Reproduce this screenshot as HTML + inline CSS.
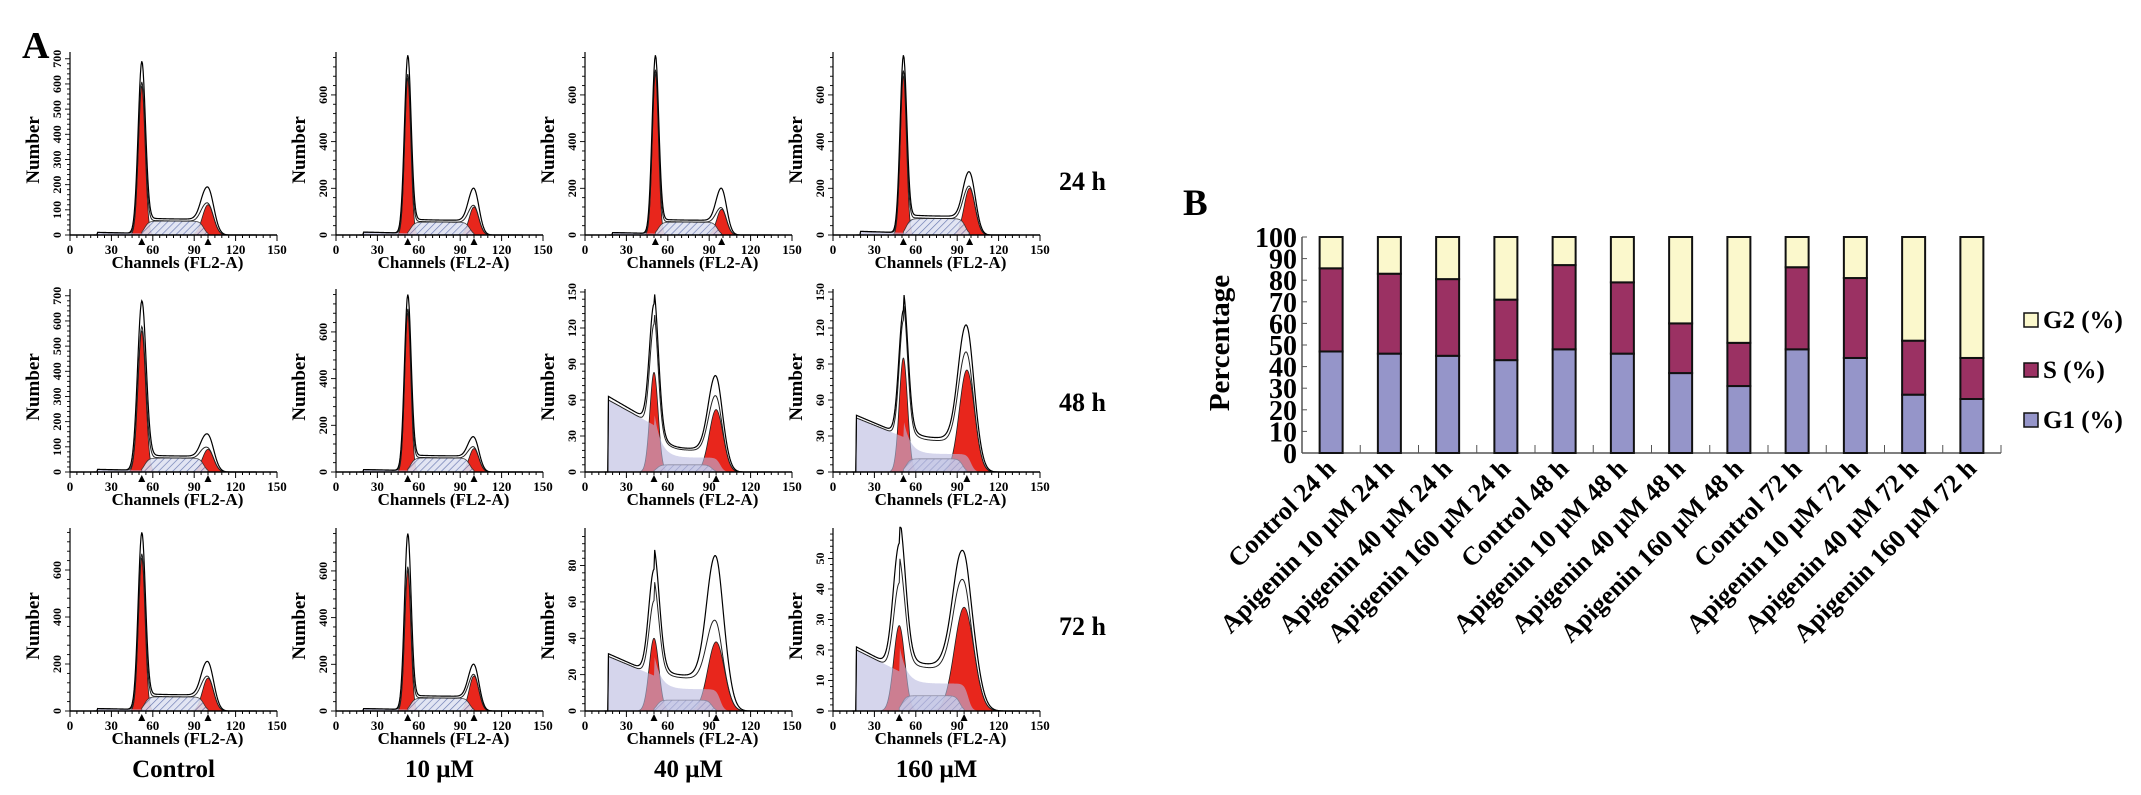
<!DOCTYPE html>
<html><head><meta charset="utf-8"><style>
html,body{margin:0;padding:0;background:#fff;}
svg{display:block;font-family:"Liberation Serif",serif;font-weight:bold;}
</style></head><body>
<svg id="fig" width="2141" height="795" viewBox="0 0 2141 795" xmlns="http://www.w3.org/2000/svg">
<defs>
<pattern id="hatch" patternUnits="userSpaceOnUse" width="5" height="5" patternTransform="rotate(45)">
<rect width="5" height="5" fill="#dfe3f2"/><line x1="0" y1="0" x2="0" y2="5" stroke="#5a6aa8" stroke-width="1.3"/>
</pattern>
</defs>
<text x="22" y="58" font-size="38">A</text>
<text x="1183" y="215" font-size="37">B</text>
<g id="panelA"></g>
<g id="panelB"></g>
</svg>
<script>
// ---- Panel A data ----
const rowLabels = ['24 h','48 h','72 h'];
const colLabels = ['Control','10 μM','40 μM','160 μM'];
const panelTop  = [715,771,771,771, 715,771,150,150, 766,771,99,59];
const panelTick = [100,200,200,200, 100,200,30,30, 200,200,20,10];
const g1Mean    = [52,52,51,51, 52,52,50,51, 52,52,50,48];
const g2Mean    = [100,100,99,99, 100,100,95,97, 100,100,95,95];
const g1Red     = [590,670,690,680, 560,680,83,95, 650,600,40,28];
const g1Obs     = [690,770,770,770, 680,760,140,135, 760,760,78,55];
const g2Red     = [120,120,110,200, 90,100,52,85, 140,150,38,34];
const g2Obs     = [190,200,200,270, 150,150,80,122, 210,200,85,52];
const sLevel    = [55,55,55,70, 55,60,6,11, 60,55,6,5];
const debris    = [10,12,10,15, 10,10,60,45, 10,10,30,20];
const debrisS   = [0,0,0,0, 0,0,12,15, 0,0,12,9];
const sig1      = [2.4,2.2,2.2,2.2, 2.8,2.2,3,3, 2.4,2.2,3.5,4];
const sig2      = [4,3.5,3.5,4, 4,3.5,5,5.5, 4,3.5,6,7];

// ---- Panel B data ----
const categories = ['Control 24 h','Apigenin 10 μM 24 h','Apigenin 40 μM 24 h','Apigenin 160 μM 24 h',
 'Control 48 h','Apigenin 10 μM 48 h','Apigenin 40 μM 48 h','Apigenin 160 μM 48 h',
 'Control 72 h','Apigenin 10 μM 72 h','Apigenin 40 μM 72 h','Apigenin 160 μM 72 h'];
const g1Pct = [47,46,45,43,48,46,37,31,48,44,27,25];
const sPct  = [38.5,37,35.5,28,39,33,23,20,38,37,25,19];
const g2Pct = [14.5,17,19.5,29,13,21,40,49,14,19,48,56];
const yTicks = [0,10,20,30,40,50,60,70,80,90,100];
const legendItems = ['G2 (%)','S (%)','G1 (%)'];

const NS='http://www.w3.org/2000/svg';
function mk(tag,attrs,parent){const e=document.createElementNS(NS,tag);for(const k in attrs)e.setAttribute(k,attrs[k]);parent.appendChild(e);return e;}

const colX=[70,336,585,833], rowY=[235,472,711], AW=207, AH=180;
const A=document.getElementById('panelA');
function gauss(c,m,s,h){return h*Math.exp(-0.5*((c-m)/s)**2);}
function sig(c,m,w){return 1/(1+Math.exp(-(c-m)/(w||1.5)));}
for(let r=0;r<3;r++)for(let c=0;c<4;c++){
  const i=r*4+c,x0=colX[c],y0=rowY[r],top=panelTop[i];
  const g=mk('g',{},A);
  
  
  const X=ch=>x0+ch/150*AW, Y=v=>y0-Math.min(v,top*1.02)/top*AH;
  const m1=g1Mean[i],m2=g2Mean[i];
  const dStart=(debrisS[i]>0)?17:20;
  const deb=ch=>{
    if(ch<dStart)return 0;
    if(ch<=m1)return debris[i]*(1-0.35*(ch-dStart)/(m1-dStart));
    const a=debris[i]*0.65*Math.exp(-(ch-m1)/(debrisS[i]>0?5:10));
    return a+debrisS[i]*(1-sig(ch,m2+3,1.5));
  };
  const sF=ch=>sLevel[i]*sig(ch,m1+2)*(1-sig(ch,m2-3));
  const base=ch=>deb(ch)*1.05+sF(ch)*1.15;
  const chs=[];for(let ch=dStart-3;ch<=135;ch+=0.5)chs.push(ch);
  // red peaks
  for(const [m,s,h] of [[m1,sig1[i],g1Red[i]],[m2,sig2[i],g2Red[i]]]){
    let d=`M${X(m-3.2*s)},${y0}`;for(let ch=m-3.2*s;ch<=m+3.2*s;ch+=0.25)d+=`L${X(ch)},${Y(gauss(ch,m,s,h))}`;d+=`L${X(m+3.2*s)},${y0}Z`;
    const p=mk('path',{d,fill:'#e8261c',stroke:'#222','stroke-width':0.8},g);
    
    
  }
  // hatched S
  let d=`M${X(m1)},${y0}`;for(let ch=m1;ch<=m2;ch+=0.5)d+=`L${X(ch)},${Y(sF(ch))}`;d+=`L${X(m2)},${y0}Z`;
  const sp=mk('path',{d,fill:'url(#hatch)',stroke:'#333','stroke-width':0.8,opacity:0.9},g);
  
  
  // debris
  d=`M${X(dStart)},${y0}`;for(let ch=dStart;ch<=135;ch+=0.5)d+=`L${X(ch)},${Y(deb(ch))}`;d+=`L${X(135)},${y0}Z`;
  const dp=mk('path',{d,fill:'#b9b9e0','fill-opacity':0.6,stroke:'none'},g);
  
  
  // model line
  d='';chs.forEach((ch,k)=>{const v=deb(ch)+sF(ch)+gauss(ch,m1,sig1[i],g1Red[i])+gauss(ch,m2,sig2[i],g2Red[i]);d+=(k?'L':'M')+X(ch)+','+Y(v);});
  const ml=mk('path',{d,fill:'none',stroke:'#222','stroke-width':1},g);
  
  
  // observed outline: peak heights match observed values
  const h1=Math.max(g1Obs[i]-base(m1),0), h2=Math.max(g2Obs[i]-base(m2),0);
  d='';chs.forEach((ch,k)=>{const v=base(ch)+gauss(ch,m1,sig1[i]*1.1,h1)+gauss(ch,m2,sig2[i]*1.05,h2);d+=(k?'L':'M')+X(ch)+','+Y(v);});
  const ol=mk('path',{d,fill:'none',stroke:'#000','stroke-width':1.2},g);
  
  
  // axes
  mk('line',{x1:x0,y1:y0,x2:x0+AW,y2:y0,stroke:'#000','stroke-width':1.5},g);
  mk('line',{x1:x0,y1:y0,x2:x0,y2:y0-AH-3,stroke:'#000','stroke-width':1.2},g);
  for(let ch=0;ch<=150;ch+=5){mk('line',{x1:X(ch),y1:y0,x2:X(ch),y2:y0+(ch%30==0?6:3),stroke:'#000','stroke-width':1},g);}
  for(let ch=0;ch<=150;ch+=30){const t=mk('text',{x:X(ch),y:y0+19,'font-size':13,'text-anchor':'middle'},g);t.textContent=ch;
    
    }
  const tk=panelTick[i];
  for(let v=0;v<=top;v+=tk/5){const yy=Y(v);mk('line',{x1:x0,y1:yy,x2:x0-((Math.abs(v/tk-Math.round(v/tk))<1e-6)?5:3),y2:yy,stroke:'#000','stroke-width':0.9},g);}
  for(let v=0;v<=top;v+=tk){const yy=Y(v);const t=mk('text',{x:x0-9,y:yy,'font-size':12,'text-anchor':'middle',transform:`rotate(-90 ${x0-9} ${yy})`},g);t.textContent=v;
    
    }
  for(const m of [m1,m2]){mk('path',{d:`M${X(m)-3.5},${y0+10}L${X(m)+3.5},${y0+10}L${X(m)},${y0+3}Z`,fill:'#000'},g);}
  const xl=mk('text',{x:x0+AW/2+4,y:y0+33,'font-size':17,'text-anchor':'middle'},g);xl.textContent='Channels (FL2-A)';
  
  
  const yl=mk('text',{x:x0-31,y:y0-AH/2+5,'font-size':19,'text-anchor':'middle',transform:`rotate(-90 ${x0-31} ${y0-AH/2+5})`},g);yl.textContent='Number';
  
  
}
rowLabels.forEach((l,r)=>{const t=mk('text',{x:1059,y:[190,411,635][r],'font-size':26},A);t.textContent=l;
  
  });
colLabels.forEach((l,c)=>{const t=mk('text',{x:colX[c]+AW/2,y:777,'font-size':25,'text-anchor':'middle'},A);t.textContent=l;
  
  });

// ---- Panel B ----
const B=document.getElementById('panelB');
const bx0=1302,bx1=2001,by0=453,by100=237;
const band=(bx1-bx0)/categories.length;
const yS=v=>by0-(v/100)*(by0-by100);
const xC=i=>bx0+band*(i+0.5);
const bw=23;
mk('line',{x1:bx0,y1:by0,x2:bx1,y2:by0,stroke:'#555','stroke-width':1.5},B);
mk('line',{x1:bx0,y1:by0,x2:bx0,y2:by100,stroke:'#555','stroke-width':1.5},B);
for(let i=1;i<=categories.length;i++){mk('line',{x1:bx0+band*i,y1:by0,x2:bx0+band*i,y2:by0-8,stroke:'#555','stroke-width':1},B);}
yTicks.forEach(v=>{mk('line',{x1:bx0,y1:yS(v),x2:bx0+5,y2:yS(v),stroke:'#555','stroke-width':1},B);
  const t=mk('text',{x:1297,y:yS(v)+10,'font-size':28,'text-anchor':'end'},B);t.textContent=v;
  
  });
const pt=mk('text',{x:1229,y:343,'font-size':29,'text-anchor':'middle',transform:'rotate(-90 1229 343)'},B);pt.textContent='Percentage';


const colors=['#9595c9','#9b3163','#fbf8cc'];
categories.forEach((cat,i)=>{
  const segs=[g1Pct[i],sPct[i],g2Pct[i]];let b=0;
  segs.forEach((v,k)=>{const r=mk('rect',{x:xC(i)-bw/2,y:yS(b+v),width:bw,height:yS(b)-yS(b+v),fill:colors[k],stroke:'#111','stroke-width':2},B);
    
    
    b+=v;});
  const tx=xC(i)+6,ty=470;
  const t=mk('text',{x:tx,y:ty,'font-size':26,'text-anchor':'end',transform:`rotate(-45 ${tx} ${ty})`},B);t.textContent=cat;
  
  
});
legendItems.forEach((l,k)=>{const yy=313+k*50;
  const sq=mk('rect',{x:2024,y:yy,width:14,height:14,fill:colors[2-k],stroke:'#111','stroke-width':1.5},B);
  
  
  const t=mk('text',{x:2043,y:yy+15,'font-size':25},B);t.textContent=l;
  
  });
</script>
</body></html>
